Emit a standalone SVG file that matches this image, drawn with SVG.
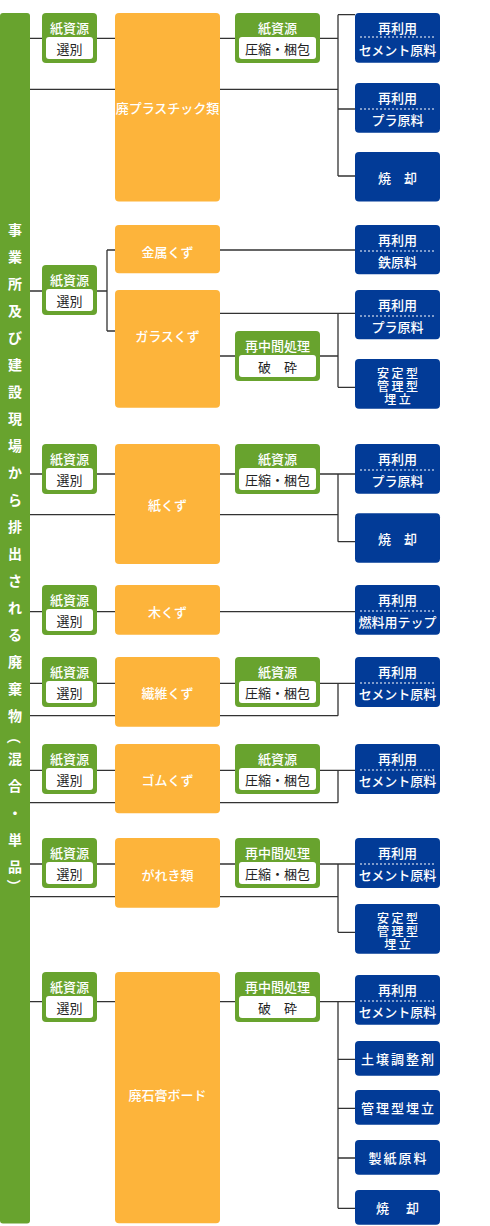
<svg xmlns="http://www.w3.org/2000/svg" width="490" height="1226" viewBox="0 0 490 1226">
<style>
.g{fill:#68a32e}.o{fill:#fdb43b}.b{fill:#023b97}.w{fill:#fff}
text{font-family:"Noto Sans CJK JP","Noto Sans CJK SC",sans-serif;font-size:13px;text-anchor:middle;dominant-baseline:central}
.tw{fill:#fff;font-weight:500}
.tk{fill:#222}
.st{font-size:12px}
.ln{stroke:#333;stroke-width:1.3;fill:none}
.dot{stroke:#fff;stroke-width:1;stroke-dasharray:2 2;fill:none}
.bar{fill:#fff;font-weight:bold;font-size:14px}
</style>
<rect width="490" height="1226" fill="#fff"/>
<g id="bar">
<rect class="g" x="0" y="13" width="30" height="1210.5" rx="3"/>
<text class="bar"><tspan x="15" y="229">事</tspan><tspan x="15" y="256">業</tspan><tspan x="15" y="283">所</tspan><tspan x="15" y="310">及</tspan><tspan x="15" y="337">び</tspan><tspan x="15" y="364">建</tspan><tspan x="15" y="391">設</tspan><tspan x="15" y="418">現</tspan><tspan x="15" y="445">場</tspan><tspan x="15" y="472">か</tspan><tspan x="15" y="499">ら</tspan><tspan x="15" y="526">排</tspan><tspan x="15" y="553">出</tspan><tspan x="15" y="580">さ</tspan><tspan x="15" y="607">れ</tspan><tspan x="15" y="634">る</tspan><tspan x="15" y="661">廃</tspan><tspan x="15" y="688">棄</tspan><tspan x="15" y="715">物</tspan></text>
<text class="bar" x="15" y="737" transform="rotate(90 15 737)">（</text>
<text class="bar"><tspan x="15" y="758">混</tspan><tspan x="15" y="785">合</tspan><tspan x="15" y="812">・</tspan><tspan x="15" y="839">単</tspan><tspan x="15" y="866">品</tspan></text>
<text class="bar" x="15" y="886" transform="rotate(90 15 886)">）</text>
</g>
<g id="connectors" class="ln">
<path d="M30 38.3H42M97 38.3H115M30 89.3H115M220 38.3H235M320 38.3H338M338 14.7V176M338 14.7H355M220 89.3H338M338 109H355M338 176H355"/>
<path d="M30 291H42M97 291H107M107 250V331M107 250H115M107 331H115M220 250H355M220 313.3H355M338 313.3V387.3M338 387.3H355M220 356H235M320 356H338"/>
<path d="M30 474H42M97 474H115M30 514.7H115M220 474H235M320 474H355M338 474V541.7M220 514.7H338M338 541.7H355"/>
<path d="M30 611.7H42M97 611.7H115M220 611.7H355"/>
<path d="M30 683.3H42M97 683.3H115M30 715.7H115M220 683.3H235M320 683.3H355M338 683.3V715.7M220 715.7H338"/>
<path d="M30 770.3H42M97 770.3H115M30 802.7H115M220 770.3H235M320 770.3H355M338 770.3V802.7M220 802.7H338"/>
<path d="M30 864H42M97 864H115M30 896.7H115M220 864H235M320 864H355M338 864V932.3M220 896.7H338M338 932.3H355"/>
<path d="M30 1001.7H42M97 1001.7H115M220 1001.7H235M320 1001.7H355M338 1001.7V1208.3M338 1059.3H355M338 1108.3H355M338 1158H355M338 1208.3H355"/>
</g>
<g id="s1"><rect class="g" x="42" y="13" width="55" height="50" rx="4"/><rect class="w" x="46" y="37" width="47" height="22" rx="3"/><text class="tw" x="69.5" y="27.5">紙資源</text><text class="tk" x="69.5" y="48">選別</text></g>
<g id="s2"><rect class="g" x="42" y="265" width="55" height="50" rx="4"/><rect class="w" x="46" y="289" width="47" height="22" rx="3"/><text class="tw" x="69.5" y="279.5">紙資源</text><text class="tk" x="69.5" y="300">選別</text></g>
<g id="s3"><rect class="g" x="42" y="444" width="55" height="50" rx="4"/><rect class="w" x="46" y="468" width="47" height="22" rx="3"/><text class="tw" x="69.5" y="458.5">紙資源</text><text class="tk" x="69.5" y="479">選別</text></g>
<g id="s4"><rect class="g" x="42" y="585" width="55" height="50" rx="4"/><rect class="w" x="46" y="609" width="47" height="22" rx="3"/><text class="tw" x="69.5" y="599.5">紙資源</text><text class="tk" x="69.5" y="620">選別</text></g>
<g id="s5"><rect class="g" x="42" y="657" width="55" height="50" rx="4"/><rect class="w" x="46" y="681" width="47" height="22" rx="3"/><text class="tw" x="69.5" y="671.5">紙資源</text><text class="tk" x="69.5" y="692">選別</text></g>
<g id="s6"><rect class="g" x="42" y="744" width="55" height="50" rx="4"/><rect class="w" x="46" y="768" width="47" height="22" rx="3"/><text class="tw" x="69.5" y="758.5">紙資源</text><text class="tk" x="69.5" y="779">選別</text></g>
<g id="s7"><rect class="g" x="42" y="838" width="55" height="50" rx="4"/><rect class="w" x="46" y="862" width="47" height="22" rx="3"/><text class="tw" x="69.5" y="852.5">紙資源</text><text class="tk" x="69.5" y="873">選別</text></g>
<g id="s8"><rect class="g" x="42" y="972" width="55" height="50" rx="4"/><rect class="w" x="46" y="996" width="47" height="22" rx="3"/><text class="tw" x="69.5" y="986.5">紙資源</text><text class="tk" x="69.5" y="1007">選別</text></g>
<g id="o1"><rect class="o" x="115" y="13" width="105" height="188.6" rx="4"/><text class="tw" x="167.5" y="107">廃プラスチック類</text></g>
<g id="o2"><rect class="o" x="115" y="225" width="105" height="48.3" rx="4"/><text class="tw" x="167.5" y="251">金属くず</text></g>
<g id="o3"><rect class="o" x="115" y="290" width="105" height="117.7" rx="4"/><text class="tw" x="167.5" y="335">ガラスくず</text></g>
<g id="o4"><rect class="o" x="115" y="444" width="105" height="120" rx="4"/><text class="tw" x="167.5" y="504">紙くず</text></g>
<g id="o5"><rect class="o" x="115" y="585" width="105" height="49.7" rx="4"/><text class="tw" x="167.5" y="611">木くず</text></g>
<g id="o6"><rect class="o" x="115" y="657" width="105" height="69.7" rx="4"/><text class="tw" x="167.5" y="692.5">繊維くず</text></g>
<g id="o7"><rect class="o" x="115" y="744" width="105" height="69.3" rx="4"/><text class="tw" x="167.5" y="779.5">ゴムくず</text></g>
<g id="o8"><rect class="o" x="115" y="838" width="105" height="69.7" rx="4"/><text class="tw" x="167.5" y="874">がれき類</text></g>
<g id="o9"><rect class="o" x="115" y="972" width="105" height="251.3" rx="4"/><text class="tw" x="167.5" y="1094">廃石膏ボード</text></g>
<g id="p1"><rect class="g" x="235" y="13" width="85" height="50" rx="4"/><rect class="w" x="239" y="37" width="77" height="22" rx="3"/><text class="tw" x="277.5" y="27.5">紙資源</text><text class="tk" x="277.5" y="48">圧縮・梱包</text></g>
<g id="p2"><rect class="g" x="235" y="331" width="85" height="50" rx="4"/><rect class="w" x="239" y="355" width="77" height="22" rx="3"/><text class="tw" x="277.5" y="345">再中間処理</text><text class="tk" x="277.5" y="366">破　砕</text></g>
<g id="p3"><rect class="g" x="235" y="444" width="85" height="50" rx="4"/><rect class="w" x="239" y="468" width="77" height="22" rx="3"/><text class="tw" x="277.5" y="458.5">紙資源</text><text class="tk" x="277.5" y="479">圧縮・梱包</text></g>
<g id="p4"><rect class="g" x="235" y="657" width="85" height="50" rx="4"/><rect class="w" x="239" y="681" width="77" height="22" rx="3"/><text class="tw" x="277.5" y="671.5">紙資源</text><text class="tk" x="277.5" y="692">圧縮・梱包</text></g>
<g id="p5"><rect class="g" x="235" y="744" width="85" height="50" rx="4"/><rect class="w" x="239" y="768" width="77" height="22" rx="3"/><text class="tw" x="277.5" y="758.5">紙資源</text><text class="tk" x="277.5" y="779">圧縮・梱包</text></g>
<g id="p6"><rect class="g" x="235" y="838" width="85" height="50" rx="4"/><rect class="w" x="239" y="862" width="77" height="22" rx="3"/><text class="tw" x="277.5" y="852.5">再中間処理</text><text class="tk" x="277.5" y="873">圧縮・梱包</text></g>
<g id="p7"><rect class="g" x="235" y="972" width="85" height="50" rx="4"/><rect class="w" x="239" y="996" width="77" height="22" rx="3"/><text class="tw" x="277.5" y="986.5">再中間処理</text><text class="tk" x="277.5" y="1007">破　砕</text></g>
<g id="b1"><rect class="b" x="355" y="13" width="85" height="49.7" rx="4"/><text class="tw" x="397.5" y="27">再利用</text><path class="dot" d="M360 37H435"/><text class="tw" x="397.5" y="49" font-size="12.5">セメント原料</text></g>
<g id="b2"><rect class="b" x="355" y="83" width="85" height="49.7" rx="4"/><text class="tw" x="397.5" y="97">再利用</text><path class="dot" d="M360 109H435"/><text class="tw" x="397.5" y="119.5">プラ原料</text></g>
<g id="b3"><rect class="b" x="355" y="152" width="85" height="49.6" rx="4"/><text class="tw" x="397.5" y="177">焼　却</text></g>
<g id="b4"><rect class="b" x="355" y="225" width="85" height="49.3" rx="4"/><text class="tw" x="397.5" y="239">再利用</text><path class="dot" d="M360 251H435"/><text class="tw" x="397.5" y="261.5">鉄原料</text></g>
<g id="b5"><rect class="b" x="355" y="290" width="85" height="49.3" rx="4"/><text class="tw" x="397.5" y="304">再利用</text><path class="dot" d="M360 316H435"/><text class="tw" x="397.5" y="326.5">プラ原料</text></g>
<g id="b6"><rect class="b" x="355" y="359" width="85" height="49.7" rx="4"/><text class="tw st" letter-spacing="2.5"><tspan x="398.7" y="371.5">安定型</tspan><tspan x="398.7" y="384.5">管理型</tspan><tspan x="398.7" y="397.5">埋立</tspan></text></g>
<g id="b7"><rect class="b" x="355" y="444" width="85" height="49.7" rx="4"/><text class="tw" x="397.5" y="458">再利用</text><path class="dot" d="M360 470H435"/><text class="tw" x="397.5" y="480.5">プラ原料</text></g>
<g id="b8"><rect class="b" x="355" y="513.3" width="85" height="49.4" rx="4"/><text class="tw" x="397.5" y="538">焼　却</text></g>
<g id="b9"><rect class="b" x="355" y="585" width="85" height="49.7" rx="4"/><text class="tw" x="397.5" y="599">再利用</text><path class="dot" d="M360 611H435"/><text class="tw" x="397.5" y="621.5" font-size="12.5">燃料用テップ</text></g>
<g id="b10"><rect class="b" x="355" y="657" width="85" height="50" rx="4"/><text class="tw" x="397.5" y="671">再利用</text><path class="dot" d="M360 683H435"/><text class="tw" x="397.5" y="693.5" font-size="12.5">セメント原料</text></g>
<g id="b11"><rect class="b" x="355" y="744" width="85" height="50" rx="4"/><text class="tw" x="397.5" y="758">再利用</text><path class="dot" d="M360 770H435"/><text class="tw" x="397.5" y="780.5" font-size="12.5">セメント原料</text></g>
<g id="b12"><rect class="b" x="355" y="838" width="85" height="50" rx="4"/><text class="tw" x="397.5" y="852">再利用</text><path class="dot" d="M360 864H435"/><text class="tw" x="397.5" y="874.5" font-size="12.5">セメント原料</text></g>
<g id="b13"><rect class="b" x="355" y="904" width="85" height="49.7" rx="4"/><text class="tw st" letter-spacing="2.5"><tspan x="398.7" y="916.5">安定型</tspan><tspan x="398.7" y="929.5">管理型</tspan><tspan x="398.7" y="942.5">埋立</tspan></text></g>
<g id="b14"><rect class="b" x="355" y="975" width="85" height="49.7" rx="4"/><text class="tw" x="397.5" y="989">再利用</text><path class="dot" d="M360 1001H435"/><text class="tw" x="397.5" y="1011.5" font-size="12.5">セメント原料</text></g>
<g id="b15"><rect class="b" x="355" y="1041" width="85" height="34.7" rx="4"/><text class="tw" x="398.5" y="1058" letter-spacing="2">土壌調整剤</text></g>
<g id="b16"><rect class="b" x="355" y="1090" width="85" height="34.7" rx="4"/><text class="tw" x="398.5" y="1107" letter-spacing="2">管理型埋立</text></g>
<g id="b17"><rect class="b" x="355" y="1140" width="85" height="34.7" rx="4"/><text class="tw" x="398.5" y="1157" letter-spacing="2">製紙原料</text></g>
<g id="b18"><rect class="b" x="355" y="1190" width="85" height="34.7" rx="4"/><text class="tw" x="398.5" y="1207" letter-spacing="2">焼　却</text></g>
</svg>
